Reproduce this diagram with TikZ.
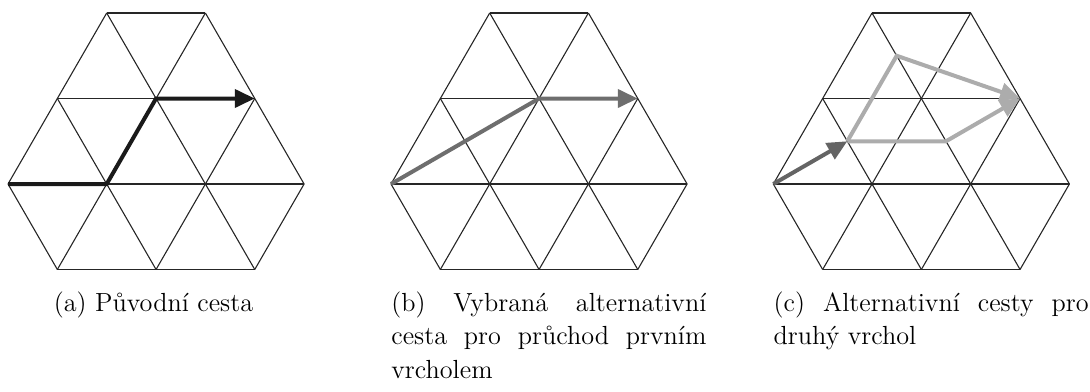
\documentclass[tikz,border=0pt]{standalone}
\usepackage{fontspec}
\usetikzlibrary{arrows.meta,calc}
\definecolor{pathA}{RGB}{26,26,26}
\definecolor{pathB}{RGB}{110,110,110}
\definecolor{pathCd}{RGB}{100,100,100}
\definecolor{pathCl}{RGB}{172,172,172}
\tikzset{
  gridline/.style={line width=0.55pt, black!85},
  route/.style={line width=2pt, line join=miter, -{Triangle[length=10pt,width=9pt]}},
  caption/.style={inner sep=0pt, font=\fontsize{13.1}{16.75}\selectfont},
  capbox/.style={caption, text width=157.5pt, align=justify, anchor=base west}
}
\begin{document}
\begin{tikzpicture}[x=0.5pt, y=-0.5pt]
\path[use as bounding box] (0,0) rectangle (1090,391);
\def\s{49.35}
\foreach \g/\ox in {a/8, b/391, c/773.3} {
  \foreach \U in {2,4} \coordinate (\g-t\U) at ({\ox+\U*\s}, 13);
  \foreach \U in {1,3,5} \coordinate (\g-u\U) at ({\ox+\U*\s}, 98.5);
  \foreach \U in {0,2,4,6} \coordinate (\g-m\U) at ({\ox+\U*\s}, 184);
  \foreach \U in {1,3,5} \coordinate (\g-d\U) at ({\ox+\U*\s}, 269.5);
  % horizontal lines
  \draw[gridline] (\g-t2) -- (\g-t4);
  \draw[gridline] (\g-u1) -- (\g-u5);
  \draw[gridline] (\g-m0) -- (\g-m6);
  \draw[gridline] (\g-d1) -- (\g-d5);
  % up-right lines
  \draw[gridline] (\g-m0) -- (\g-t2);
  \draw[gridline] (\g-d1) -- (\g-t4);
  \draw[gridline] (\g-d3) -- (\g-u5);
  \draw[gridline] (\g-d5) -- (\g-m6);
  % up-left lines
  \draw[gridline] (\g-m6) -- (\g-t4);
  \draw[gridline] (\g-d5) -- (\g-t2);
  \draw[gridline] (\g-d3) -- (\g-u1);
  \draw[gridline] (\g-d1) -- (\g-m0);
}
% midpoints in (c)
\coordinate (c-p1) at ($(c-u1)!0.5!(c-m2)$);
\coordinate (c-p2) at ($(c-t2)!0.5!(c-u3)$);
\coordinate (c-p3) at ($(c-u3)!0.5!(c-m4)$);
% routes
\draw[route, pathA] (a-m0) -- (a-m2) -- (a-u3) -- (a-u5);
\draw[route, pathB] (b-m0) -- (b-u3) -- (b-u5);
\draw[route, pathCl] (c-p1) -- (c-p2) -- (c-u5);
\draw[route, pathCl] (c-p1) -- (c-p3) -- (c-u5);
\draw[route, pathCd] (c-m0) -- (c-p1);
% captions
\hyphenpenalty=10000
\node[caption, anchor=base] (capa) at (153.5,311) {(a) Původní cesta};
\node[capbox] (capb) at (391,311) {(b) Vybraná alternativní\linebreak cesta pro průchod prvním\linebreak vrcholem};
\node[capbox] (capc) at (773.3,311) {(c) Alternativní cesty pro\linebreak druhý vrchol};
\end{tikzpicture}
\end{document}
